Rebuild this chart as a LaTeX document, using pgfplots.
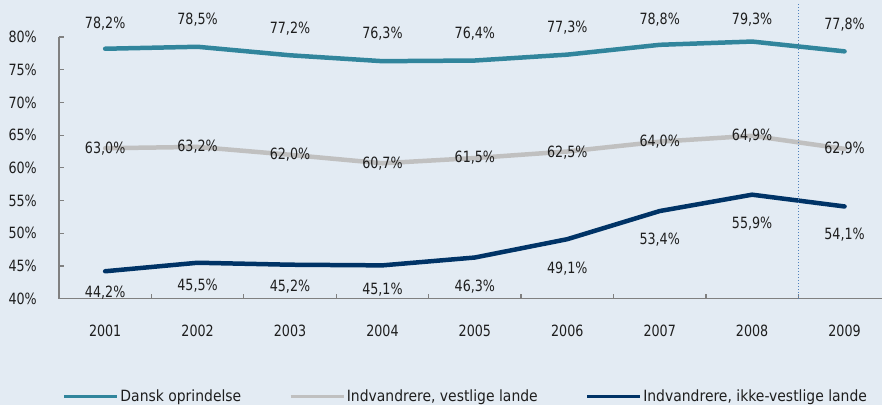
\documentclass[border=0pt]{standalone}
\usepackage{fontspec}
\setmainfont{DejaVu Sans}[FakeStretch=0.82]
\newfontfamily\legfont{DejaVu Sans}[FakeStretch=0.9]
\usepackage{pgfplots}
\usepackage{pgfplotstable}
\pgfplotsset{compat=1.18}
\definecolor{bgcol}{RGB}{227,235,243}
\definecolor{axisgray}{RGB}{128,128,128}
\definecolor{dansk}{RGB}{49,133,156}
\definecolor{vest}{RGB}{192,192,192}
\definecolor{ikke}{RGB}{0,51,102}
\definecolor{dotblue}{RGB}{79,129,189}
\definecolor{txt}{RGB}{30,30,30}
\newcommand\fs{\fontsize{15.5}{18}\selectfont}

\pgfplotstableread{
x y dy
1 78.2 25
2 78.5 27
3 77.2 27
4 76.3 28
5 76.4 27
6 77.3 27
7 78.8 25
8 79.3 22
9 77.8 27
}\dansktab
\pgfplotstableread{
x y dy
1 63.0 0
2 63.2 0
3 62.0 0
4 60.7 0
5 61.5 0
6 62.5 -1
7 64.0 0
8 64.9 0
9 62.9 0
}\vesttab
\pgfplotstableread{
x y dy
1 44.2 -21
2 45.5 -23
3 45.2 -22
4 45.1 -24
5 46.3 -29
6 49.1 -29
7 53.4 -29
8 55.9 -29
9 54.1 -28
}\ikketab

\pgfplotsset{
  lbl/.style={
    nodes near coords={\pgfmathprintnumber[fixed,fixed zerofill,precision=1,use comma]{\pgfplotspointmeta}\%},
    point meta=y,
    visualization depends on={\thisrow{dy}\as\dy},
    every node near coord/.append style={anchor=center, font=\fs, text=txt, yshift=\dy pt},
  }
}

\begin{document}
\begin{tikzpicture}
\fill[bgcol] (-59pt,-106pt) rectangle (824pt,299pt);
\begin{axis}[
  at={(0,0)}, anchor=south west,
  scale only axis, width=824pt, height=262pt,
  xmin=0.5, xmax=9.408, ymin=40, ymax=80,
  axis lines=left,
  axis line style={-, draw=axisgray, line width=1.5pt},
  tick align=inside, major tick length=5pt,
  tick style={draw=axisgray, line width=1.2pt},
  xtick={1.5,2.5,3.5,4.5,5.5,6.5,7.5,8.5},
  xticklabels={,,,,,,,},
  extra x ticks={1,2,3,4,5,6,7,8,9},
  extra x tick labels={2001,2002,2003,2004,2005,2006,2007,2008,2009},
  extra x tick style={major tick length=0pt},
  xticklabel style={anchor=north, inner sep=0pt, yshift=-26pt},
  ytick={40,45,50,55,60,65,70,75,80},
  yticklabel={\pgfmathprintnumber{\tick}\%},
  yticklabel style={anchor=east, inner sep=0pt, xshift=-22pt},
  tick label style={font=\fs, text=txt},
  /pgf/number format/assume math mode=true,
  clip=false,
  legend image code/.code={\draw[#1, line width=2.6pt, line cap=butt] (0pt,0pt) -- (53pt,0pt);},
  legend style={at={(axis description cs:0,0)}, anchor=west, xshift=4pt, yshift=-98pt,
    draw=none, fill=none, inner sep=0pt, outer sep=0pt,
    font=\legfont\fontsize{15.5}{18}\selectfont, text=txt,
    legend columns=3,
    nodes={inner sep=2pt},
    /tikz/every even column/.append style={column sep=46pt}},
  legend cell align=left,
]
\addplot[dansk, line width=4.5pt, line cap=round, line join=round, lbl] table[x=x,y=y] {\dansktab};
\addlegendentry{Dansk oprindelse}
\addplot[vest, line width=4.5pt, line cap=round, line join=round, lbl] table[x=x,y=y] {\vesttab};
\addlegendentry{Indvandrere, vestlige lande}
\addplot[ikke, line width=4.5pt, line cap=round, line join=round, lbl] table[x=x,y=y] {\ikketab};
\addlegendentry{Indvandrere, ikke-vestlige lande}
\draw[dotblue, dotted, line width=1pt] (axis cs:8.5,40) -- (axis cs:8.5,85);
\end{axis}
\end{tikzpicture}
\end{document}
